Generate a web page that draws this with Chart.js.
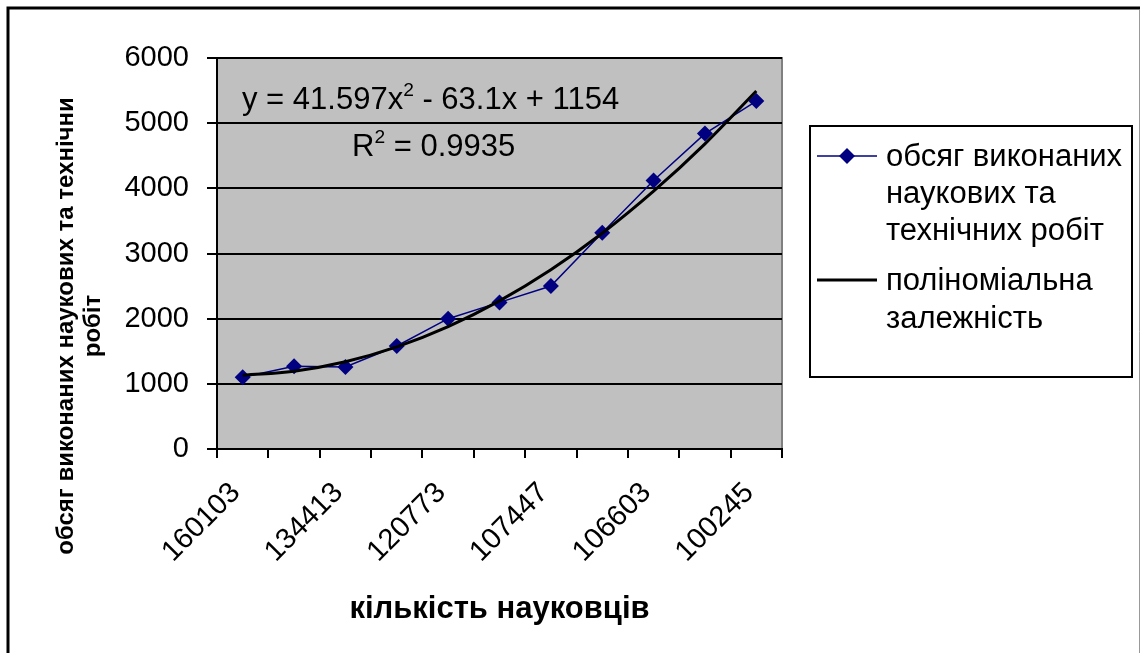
<!DOCTYPE html>
<html>
<head>
<meta charset="utf-8">
<script src="https://cdn.jsdelivr.net/npm/chart.js@4.4.1/dist/chart.umd.min.js"></script>
<style>
  html, body { margin: 0; padding: 0; background: #fff; }
  #wrap { width: 1140px; height: 653px; }
</style>
</head>
<body>
<div id="wrap"><canvas id="chart" width="1140" height="653"></canvas></div>
<script>
// categories (only every other one is labelled on the axis)
const scientists = ['160103', '147000', '134413', '127000', '120773', '113000',
                    '107447', '106800', '106603', '103000', '100245'];
const workVolume = [1100, 1270, 1260, 1580, 2000, 2250, 2500, 3320, 4120, 4840, 5340];
const trendValues = [1133, 1194, 1339, 1567, 1878, 2273, 2751, 3311, 3956, 4683, 5493];
const yTicks = [0, 1000, 2000, 3000, 4000, 5000, 6000];

const seriesName = ['обсяг виконаних', 'наукових та', 'технічних робіт'];
const trendName = ['поліноміальна', 'залежність'];
const yTitle = ['обсяг виконаних наукових та технічни', 'робіт'];
const xTitle = 'кількість науковців';

const FONT = '"Liberation Sans", Arial, sans-serif';

function supText(ctx, parts, x, y, size) {
  // parts: [text, isSup]
  let cx = x;
  parts.forEach(p => {
    ctx.font = (p[1] ? size * 0.62 : size) + 'px ' + FONT;
    ctx.fillText(p[0], cx, p[1] ? y - size * 0.42 : y);
    cx += ctx.measureText(p[0]).width;
  });
}

const decor = {
  id: 'decor',
  beforeDraw(chart) {
    const { ctx, chartArea: a } = chart;
    ctx.save();
    ctx.fillStyle = '#ffffff';
    ctx.fillRect(0, 0, chart.width, chart.height);
    ctx.fillStyle = '#c0c0c0';
    ctx.fillRect(a.left, a.top, a.right - a.left, a.bottom - a.top);
    ctx.strokeStyle = '#808080';
    ctx.lineWidth = 2;
    ctx.beginPath();
    ctx.moveTo(a.left, a.top);
    ctx.lineTo(a.right, a.top);
    ctx.lineTo(a.right, a.bottom);
    ctx.stroke();
    ctx.restore();
  },
  afterDraw(chart) {
    const { ctx } = chart;
    ctx.save();
    // outer frame
    ctx.strokeStyle = '#000';
    ctx.lineWidth = 3;
    ctx.strokeRect(8, 8, 1160, 680);
    ctx.strokeStyle = '#999';
    ctx.lineWidth = 1;
    ctx.beginPath();
    ctx.moveTo(1139.5, 10);
    ctx.lineTo(1139.5, 653);
    ctx.stroke();

    // trendline label
    ctx.fillStyle = '#000';
    ctx.textAlign = 'left';
    ctx.textBaseline = 'alphabetic';
    supText(ctx, [['y = 41.597x', false], ['2', true], [' - 63.1x + 1154', false]], 242, 109, 31);
    supText(ctx, [['R', false], ['2', true], [' = 0.9935', false]], 352, 156, 31);

    // y title
    ctx.font = 'bold 24px ' + FONT;
    ctx.textAlign = 'center';
    ctx.textBaseline = 'middle';
    yTitle.forEach((line, i) => {
      ctx.save();
      ctx.translate(66 + i * 27, 326);
      ctx.rotate(-Math.PI / 2);
      ctx.fillText(line, 0, 0);
      ctx.restore();
    });

    // legend
    ctx.strokeStyle = '#000';
    ctx.lineWidth = 2;
    ctx.strokeRect(810, 126, 322, 251);
    ctx.strokeStyle = '#000080';
    ctx.lineWidth = 1.5;
    ctx.beginPath();
    ctx.moveTo(817, 156);
    ctx.lineTo(877, 156);
    ctx.stroke();
    ctx.fillStyle = '#000080';
    ctx.beginPath();
    ctx.moveTo(847, 148);
    ctx.lineTo(855, 156);
    ctx.lineTo(847, 164);
    ctx.lineTo(839, 156);
    ctx.closePath();
    ctx.fill();
    ctx.strokeStyle = '#000';
    ctx.lineWidth = 3;
    ctx.beginPath();
    ctx.moveTo(817, 280);
    ctx.lineTo(877, 280);
    ctx.stroke();
    ctx.fillStyle = '#000';
    ctx.font = '31px ' + FONT;
    ctx.textAlign = 'left';
    ctx.textBaseline = 'middle';
    seriesName.forEach((t, i) => ctx.fillText(t, 886, 157 + i * 37));
    trendName.forEach((t, i) => ctx.fillText(t, 886, 281 + i * 38));
    ctx.restore();
  }
};

new Chart(document.getElementById('chart'), {
  type: 'line',
  data: {
    labels: scientists,
    datasets: [
      {
        label: seriesName.join(' '),
        data: workVolume,
        borderColor: '#000080',
        backgroundColor: '#000080',
        borderWidth: 1.5,
        pointStyle: 'rectRot',
        pointRadius: 8,
        pointBorderWidth: 0,
        tension: 0,
        order: 2
      },
      {
        label: trendName.join(' '),
        data: trendValues,
        borderColor: '#000',
        borderWidth: 3,
        pointRadius: 0,
        tension: 0.4,
        order: 1
      }
    ]
  },
  options: {
    responsive: false,
    animation: false,
    layout: { padding: { left: 0, top: 58, right: 358, bottom: 0 } },
    plugins: {
      legend: { display: false },
      tooltip: { enabled: false }
    },
    scales: {
      x: {
        offset: true,
        grid: { offset: true, drawOnChartArea: false, color: '#000', lineWidth: 2, tickLength: 9 },
        border: { color: '#000', width: 2 },
        ticks: {
          autoSkip: false,
          minRotation: 45,
          maxRotation: 45,
          padding: 18,
          labelOffset: -7,
          color: '#000',
          font: { family: FONT, size: 29 },
          callback: (v, i) => (i % 2 === 0 ? scientists[i] : '')
        },
        title: {
          display: true,
          text: xTitle,
          color: '#000',
          font: { family: FONT, size: 31, weight: 'bold' },
          padding: { top: 0, bottom: 25 }
        },
        afterFit: s => { s.height = 204; }
      },
      y: {
        min: 0,
        max: 6000,
        afterBuildTicks: s => { s.ticks = yTicks.map(v => ({ value: v })); },
        grid: { color: '#000', lineWidth: 2, tickLength: 10 },
        border: { color: '#000', width: 2 },
        ticks: {
          padding: 18,
          color: '#000',
          font: { family: FONT, size: 29 },
          callback: v => String(v)
        },
        afterFit: s => { s.width = 217; }
      }
    }
  },
  plugins: [decor]
});
</script>
</body>
</html>
